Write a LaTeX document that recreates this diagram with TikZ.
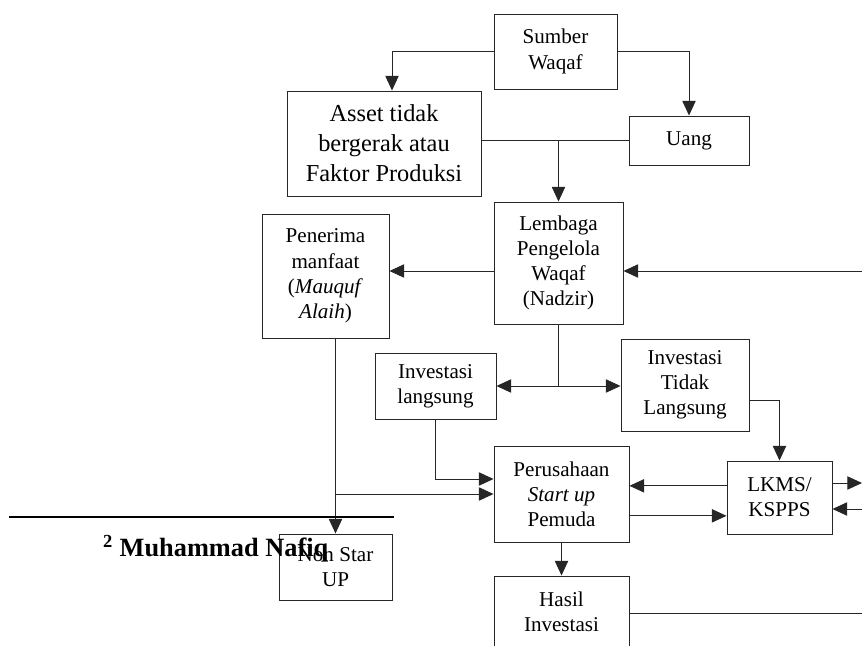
\documentclass[tikz,border=0pt]{standalone}
\usepackage{fontspec}
\setmainfont{Liberation Serif}
\usetikzlibrary{arrows.meta}
\begin{document}
\begin{tikzpicture}[x=0.03cm,y=-0.03cm]
\tikzstyle{every node}+=[inner sep=0pt]
\tikzstyle{box}=[draw=black!85,line width=0.8pt,align=center,font=\fontsize{18}{21.5}\selectfont]
\tikzstyle{lin}=[draw=black!85,line width=0.8pt]
\tikzstyle{arr}=[lin,-{Triangle[length=0.44cm,width=0.4cm]}]
\tikzstyle{arrs}=[lin,{Triangle[length=0.44cm,width=0.4cm]}-{Triangle[length=0.44cm,width=0.4cm]}]
\useasboundingbox (0,0) rectangle (862,646);
\clip (0,0) rectangle (862,646);
% boxes
\node[box,minimum width=3.69cm,minimum height=2.25cm] (sumber) at (555.5,51.5) {Sumber\\Waqaf};
\node[box,minimum width=5.82cm,minimum height=3.15cm,font=\fontsize{20.8}{25.5}\selectfont] (asset) at (384,143.5) {Asset tidak\\bergerak atau\\Faktor Produksi};
\node[box,minimum width=3.6cm,minimum height=1.47cm] (uang) at (689,140.5) {Uang};
\node[box,minimum width=3.87cm,minimum height=3.66cm] (lembaga) at (558.5,263) {Lembaga\\Pengelola\\Waqaf\\(Nadzir)};
\node[box,minimum width=3.81cm,minimum height=3.72cm] (penerima) at (325.5,276) {Penerima\\manfaat\\(\textit{Mauquf}\\\textit{Alaih})};
\node[box,minimum width=3.63cm,minimum height=1.98cm] (invl) at (435.5,386) {Investasi\\langsung};
\node[box,minimum width=3.84cm,minimum height=2.76cm] (invtl) at (685,385) {Investasi\\Tidak\\Langsung};
\node[box,minimum width=4.05cm,minimum height=2.88cm] (startup) at (561.5,494) {Perusahaan\\\textit{Start up}\\Pemuda};
\node[box,minimum width=3.15cm,minimum height=2.19cm] (lkms) at (779.5,497.5) {LKMS/\\KSPPS};
\node[box,minimum width=3.39cm,minimum height=1.98cm] (nonstar) at (335.5,567) {Non Star\\UP};
\node[box,minimum width=4.05cm,minimum height=2.16cm] (hasil) at (561.5,612) {Hasil\\Investasi};
% loose ends at the right edge
\coordinate (nazin) at (862,271);
\coordinate (lkmsout) at (862,483);
\coordinate (lkmsin) at (862,509);
\coordinate (hasilout) at (862,613);
% connectors
\draw[arr] (sumber.west) -| ([xshift=0.24cm]asset.north);
\draw[arr] (sumber.east) -| (uang.north);
\draw[lin] (uang.west) -- (uang.west -| asset.east);
\draw[arr] (lembaga.north |- uang.west) -- (lembaga.north);
\draw[arr] ([yshift=-0.24cm]lembaga.west) -- ([yshift=-0.24cm]lembaga.west -| penerima.east);
\draw[arr] (nazin) -- (nazin -| lembaga.east);
\draw[arr] (nonstar.north |- penerima.south) -- (nonstar.north);
\draw[arr] (nonstar.north |- startup.west) -- (startup.west);
\draw[lin] (lembaga.south) -- (lembaga.south |- invl.east);
\draw[arrs] (invl.east) -- (invl.east -| invtl.west);
\draw[arr] (invl.south) |- ([yshift=0.45cm]startup.west);
\draw[arr] ([yshift=-0.45cm]invtl.east) -| (lkms.north);
\draw[arr] ([yshift=0.35cm]lkms.west) -- ([yshift=0.35cm]lkms.west -| startup.east);
\draw[arr] ([yshift=-0.55cm]lkms.west -| startup.east) -- ([yshift=-0.55cm]lkms.west);
\draw[arr] (lkmsout -| lkms.east) -- (lkmsout);
\draw[arr] (lkmsin) -- (lkmsin -| lkms.east);
\draw[arr] (startup.south) -- (hasil.north);
\draw[lin] (hasilout -| hasil.east) -- (hasilout);
% footnote
\draw[line width=1.2pt] (9,517) -- (394,517);
\node[anchor=base west,font=\bfseries\fontsize{22.5}{27}\selectfont] (foot) at (103,556) {\textsuperscript{2} Muhammad Nafiq};
\end{tikzpicture}
\end{document}
